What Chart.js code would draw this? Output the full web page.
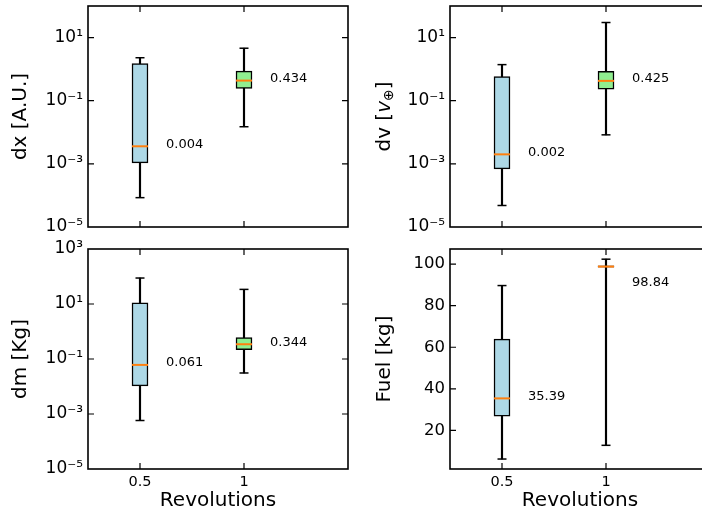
<!DOCTYPE html>
<html>
<head>
<meta charset="utf-8">
<script src="https://cdn.jsdelivr.net/npm/chart.js@4.4.0/dist/chart.umd.min.js"></script>
<style>
  html, body { margin: 0; padding: 0; background: #fff; overflow: hidden; width: 702px; height: 517px; }
  canvas { position: absolute; }
</style>
</head>
<body>
<canvas id="dxChart" width="355" height="238" style="left:0;top:0"></canvas>
<canvas id="dvChart" width="352" height="238" style="left:362px;top:0"></canvas>
<canvas id="dmChart" width="355" height="279" style="left:0;top:238px"></canvas>
<canvas id="fuelChart" width="352" height="279" style="left:362px;top:238px"></canvas>
<script>
// box positions on the x axis and their tick labels
const positions = [1, 2];
const revolutions = ['0.5', '1'];
const boxColors = ['#add8e6', '#90ee90'];

// [low whisker, high whisker], [q1, q3], median
const dxWhiskers = [[8.5e-5, 2.3], [0.015, 4.6]];
const dxBoxes = [[0.00107, 1.5], [0.245, 0.87]];
const dxMedians = [0.0036, 0.434];

const dvWhiskers = [[4.8e-5, 1.39], [0.0083, 30]];
const dvBoxes = [[0.00069, 0.58], [0.23, 0.85]];
const dvMedians = [0.002, 0.425];

const dmWhiskers = [[5.8e-4, 88], [0.031, 34]];
const dmBoxes = [[0.0105, 11], [0.22, 0.6]];
const dmMedians = [0.061, 0.344];

const fuelWhiskers = [[6.2, 89.7], [12.8, 102.4]];
const fuelBoxes = [[26.8, 63.9], [98.5, 99.2]];
const fuelMedians = [35.39, 98.84];
const fuelLabelY = [35.39, 90];

const logTicks = [1e-5, 1e-3, 1e-1, 1e1];
const dmTicks = [1e-5, 1e-3, 1e-1, 1e1, 1e3];
const fuelTicks = [20, 40, 60, 80, 100];

Chart.defaults.font.family = 'DejaVu Sans';
Chart.defaults.color = '#000';

const sup = { '-': '\u207b', '0': '\u2070', '1': '\u00b9', '2': '\u00b2', '3': '\u00b3', '5': '\u2075' };
function powLabel(v) {
    const e = String(Math.round(Math.log10(v)));
    return '10' + e.split('').map(c => sup[c]).join('');
}

function framePlugin(cfg) {
    return {
        id: 'frame',
        afterDatasetsDraw(chart) {
            const ctx = chart.ctx;
            const xs = chart.scales.x, ys = chart.scales.y;
            ctx.save();
            ctx.font = '13px DejaVu Sans';
            ctx.fillStyle = '#000';
            ctx.textAlign = 'left';
            ctx.textBaseline = 'middle';
            cfg.medians.forEach((m, i) => {
                const ly = cfg.labelY ? cfg.labelY[i] : m;
                ctx.fillText(m.toFixed(cfg.digits), xs.getPixelForValue(positions[i] + 0.25), ys.getPixelForValue(ly) - 2);
            });
            ctx.restore();
        },
        afterDraw(chart) {
            const ctx = chart.ctx;
            const a = chart.chartArea;
            const xs = chart.scales.x, ys = chart.scales.y;
            ctx.save();
            ctx.strokeStyle = '#000';
            ctx.lineWidth = 1.2;
            ctx.beginPath();
            positions.forEach(p => {
                const x = xs.getPixelForValue(p);
                ctx.moveTo(x, a.bottom); ctx.lineTo(x, a.bottom - 6);
                ctx.moveTo(x, a.top); ctx.lineTo(x, a.top + 6);
            });
            cfg.yTicks.forEach(v => {
                const y = ys.getPixelForValue(v);
                if (y <= a.top + 1 || y >= a.bottom - 1) return;
                ctx.moveTo(a.left, y); ctx.lineTo(a.left + 6, y);
                ctx.moveTo(a.right, y); ctx.lineTo(a.right - 6, y);
            });
            ctx.stroke();
            ctx.lineWidth = 1.6;
            ctx.strokeRect(a.left, a.top, a.right - a.left, a.bottom - a.top);
            if (cfg.mathTitle) {
                // dv [v_⊕] with italic v and subscript circled plus
                const parts = [
                    { t: 'dv [', f: '20px DejaVu Sans', dy: 0 },
                    { t: 'v', f: 'italic 20px DejaVu Sans', dy: 0 },
                    { t: '\u2295', f: '14px DejaVu Sans', dy: 4 },
                    { t: ']', f: '20px DejaVu Sans', dy: 0 }
                ];
                let total = 0;
                parts.forEach(p => { ctx.font = p.f; p.w = ctx.measureText(p.t).width; total += p.w; });
                ctx.translate(23, (a.top + a.bottom) / 2);
                ctx.rotate(-Math.PI / 2);
                ctx.fillStyle = '#000';
                ctx.textBaseline = 'middle';
                ctx.textAlign = 'left';
                let x = -total / 2;
                parts.forEach(p => { ctx.font = p.f; ctx.fillText(p.t, x, p.dy); x += p.w; });
            }
            ctx.restore();
        }
    };
}

function createBoxChart(canvas, cfg) {
    const whiskerEnds = [];
    cfg.whiskers.forEach((w, i) => {
        whiskerEnds.push({ x: positions[i], y: w[0] });
        whiskerEnds.push({ x: positions[i], y: w[1] });
    });
    const data = {
        datasets: [
            {
                type: 'scatter',
                data: cfg.medians.map((m, i) => ({ x: positions[i], y: m })),
                pointStyle: 'line',
                pointRadius: 8,
                borderColor: '#ff7f0e',
                pointBorderColor: '#ff7f0e',
                borderWidth: 2,
                pointBorderWidth: 2,
                order: 0
            },
            {
                type: 'scatter',
                data: whiskerEnds,
                pointStyle: 'line',
                pointRadius: 4.5,
                borderColor: '#000',
                pointBorderColor: '#000',
                borderWidth: 1.5,
                pointBorderWidth: 1.5,
                order: 1
            },
            {
                type: 'bar',
                data: cfg.boxes.map((b, i) => ({ x: positions[i], y: b })),
                backgroundColor: boxColors,
                borderColor: '#000',
                borderWidth: 1.5,
                borderSkipped: false,
                barThickness: 16,
                grouped: false,
                order: 2
            },
            {
                type: 'bar',
                data: cfg.whiskers.map((w, i) => ({ x: positions[i], y: w })),
                backgroundColor: '#000',
                barThickness: 1.5,
                grouped: false,
                order: 3
            }
        ]
    };

    const config = {
        type: 'bar',
        data: data,
        options: {
            responsive: false,
            animation: false,
            layout: { autoPadding: false, padding: { top: cfg.padTop, right: cfg.padRight, left: 0, bottom: 0 } },
            scales: {
                x: {
                    type: 'linear',
                    offset: false,
                    min: 0.5,
                    max: 3,
                    afterBuildTicks: (scale) => { scale.ticks = positions.map(v => ({ value: v })); },
                    afterFit: (scale) => { scale.height = cfg.xHeight; scale.paddingLeft = 0; scale.paddingRight = 0; },
                    ticks: {
                        display: cfg.showX,
                        autoSkip: false,
                        maxRotation: 0,
                        padding: 5,
                        font: { size: 14.5 },
                        callback: (v) => revolutions[positions.indexOf(v)]
                    },
                    grid: { display: false, drawTicks: false },
                    border: { display: false },
                    title: {
                        display: cfg.showX,
                        text: 'Revolutions',
                        font: { size: 20 },
                        padding: { top: 0, bottom: 4 }
                    }
                },
                y: {
                    type: cfg.yType,
                    min: cfg.yMin,
                    max: cfg.yMax,
                    afterBuildTicks: (scale) => { scale.ticks = cfg.yTicks.map(v => ({ value: v })); },
                    afterFit: (scale) => { scale.width = 88; scale.paddingTop = 0; scale.paddingBottom = 0; },
                    ticks: {
                        padding: 5,
                        font: { size: cfg.yType === 'logarithmic' ? 17 : 16.5 },
                        callback: (v) => cfg.yType === 'logarithmic' ? powLabel(v) : String(v)
                    },
                    grid: { display: false, drawTicks: false },
                    border: { display: false },
                    title: {
                        display: !!cfg.yTitle,
                        text: cfg.yTitle || '',
                        font: { size: 20 },
                        padding: { top: cfg.titlePad, bottom: 0 }
                    }
                }
            },
            plugins: {
                legend: { display: false },
                tooltip: { enabled: false }
            }
        },
        plugins: [framePlugin(cfg)]
    };
    return new Chart(canvas, config);
}

createBoxChart(document.getElementById('dxChart'), {
    whiskers: dxWhiskers, boxes: dxBoxes, medians: dxMedians, digits: 3,
    yType: 'logarithmic', yMin: 1e-5, yMax: 100, yTicks: logTicks, yTitle: 'dx [A.U.]',
    titlePad: 9, padTop: 6, padRight: 7, xHeight: 11, showX: false
});
createBoxChart(document.getElementById('dvChart'), {
    whiskers: dvWhiskers, boxes: dvBoxes, medians: dvMedians, digits: 3,
    yType: 'logarithmic', yMin: 1e-5, yMax: 100, yTicks: logTicks, yTitle: null, mathTitle: true,
    titlePad: 11, padTop: 6, padRight: 4, xHeight: 11, showX: false
});
createBoxChart(document.getElementById('dmChart'), {
    whiskers: dmWhiskers, boxes: dmBoxes, medians: dmMedians, digits: 3,
    yType: 'logarithmic', yMin: 1e-5, yMax: 1e3, yTicks: dmTicks, yTitle: 'dm [Kg]',
    titlePad: 9, padTop: 11, padRight: 7, xHeight: 48, showX: true
});
createBoxChart(document.getElementById('fuelChart'), {
    whiskers: fuelWhiskers, boxes: fuelBoxes, medians: fuelMedians, labelY: fuelLabelY, digits: 2,
    yType: 'linear', yMin: 1.4, yMax: 107.3, yTicks: fuelTicks, yTitle: 'Fuel [kg]',
    titlePad: 11, padTop: 11, padRight: 4, xHeight: 48, showX: true
});
</script>
</body>
</html>
